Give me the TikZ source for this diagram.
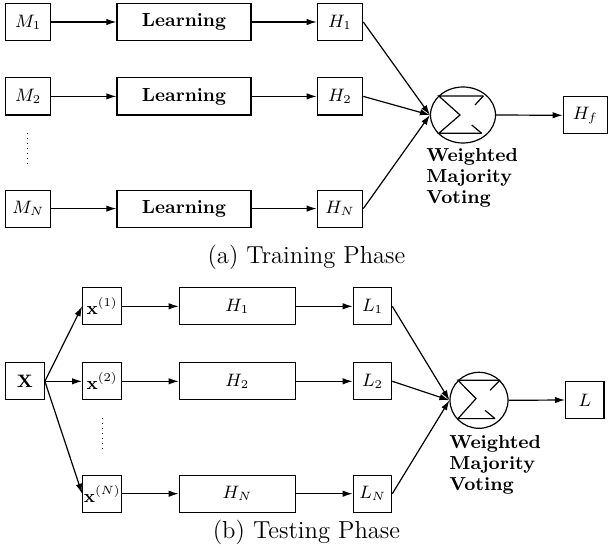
\documentclass[tikz,border=0pt]{standalone}
\usetikzlibrary{shapes.geometric,arrows.meta}
\begin{document}
\begin{tikzpicture}[x=0.5pt,y=-0.5pt,
  box/.style={draw,line width=0.6pt,minimum height=18.5pt,inner sep=0pt,font=\fontsize{9}{11}\selectfont},
  lbl/.style={font=\fontsize{9.5}{10.5}\selectfont\bfseries},
  vote/.style={font=\fontsize{9.4}{10.5}\selectfont\bfseries,align=left,inner sep=0pt,anchor=north west},
  arr/.style={-{Latex[length=5pt,width=3.2pt]},line width=0.6pt},
  thinline/.style={line width=0.6pt},
  dotline/.style={line width=0.5pt,dotted},
  sumnode/.style={draw,ellipse,line width=0.6pt,inner sep=0pt},
  captxt/.style={font=\fontsize{12.3}{14}\selectfont,anchor=base}]
\useasboundingbox (0,0) rectangle (609,556);

% ---------- Training phase ----------
\node[box,minimum width=22.5pt] (m1) at (28.2,22) {$M_1$};
\node[box,minimum width=22.5pt] (m2) at (28.2,96.4) {$M_2$};
\node[box,minimum width=22.5pt] (mn) at (28.2,208.6) {$M_N$};

\node[box,lbl,minimum width=67pt] (le1) at (184,22) {Learning};
\node[box,lbl,minimum width=67pt] (le2) at (184,96.4) {Learning};
\node[box,lbl,minimum width=67pt] (len) at (184,208.6) {Learning};

\node[box,minimum width=22.7pt] (h1) at (340,22) {$H_1$};
\node[box,minimum width=22.7pt] (h2) at (340,96.4) {$H_2$};
\node[box,minimum width=22.7pt] (hn) at (340,208.6) {$H_N$};

\node[sumnode,minimum width=32.5pt,minimum height=28pt] (s1) at (463,115) {};
\begin{scope}[shift={(s1.center)}]
  \draw[thinline] (20.3,-19) -- (-24.2,-19) -- (-3,0) -- (-24.2,18.3) -- (18.7,18.3);
  \draw[thinline] (20.3,-19) -- (12,-10);
  \draw[thinline] (8.7,10) -- (18.7,18.3);
\end{scope}
\node[vote] (v1) at (426,148.5) {Weighted\\Majority\\Voting};

\node[box,minimum width=22pt] (hf) at (585.3,115.3) {$H_f$};

\coordinate (d1a) at (27.7,133);
\coordinate (d1b) at (27.7,167);
\draw[dotline] (d1a) -- (d1b);

\draw[arr] (m1) -- (le1);
\draw[arr] (m2) -- (le2);
\draw[arr] (mn) -- (len);
\draw[arr] (le1) -- (h1);
\draw[arr] (le2) -- (h2);
\draw[arr] (len) -- (hn);
\draw[arr] (h1.east) -- (s1.west);
\draw[arr] (h2.east) -- (s1.west);
\draw[arr] (hn.east) -- (s1.west);
\draw[arr] (s1.east) -- (hf.west);

\node[captxt] (capa) at (306.5,263.5) {(a) Training Phase};

% ---------- Testing phase ----------
\node[box,minimum width=19.3pt] (X) at (25,381.3) {$\mathbf{X}$};

\node[box,minimum width=19.5pt] (x1) at (102.2,306.3) {$\mathbf{x}^{(1)}$};
\node[box,minimum width=19.5pt] (x2) at (102.2,381.3) {$\mathbf{x}^{(2)}$};
\node[box,minimum width=19.5pt] (xn) at (102.2,493.7) {$\mathbf{x}^{(N)}$};

\node[box,minimum width=58pt] (hb1) at (237.3,306.3) {$H_1$};
\node[box,minimum width=58pt] (hb2) at (237.3,381.3) {$H_2$};
\node[box,minimum width=58pt] (hbn) at (237.3,493.7) {$H_N$};

\node[box,minimum width=19.2pt] (l1) at (372.5,306.3) {$L_1$};
\node[box,minimum width=19.2pt] (l2) at (372.5,381.3) {$L_2$};
\node[box,minimum width=19.2pt] (lN) at (372.5,493.7) {$L_N$};

\node[sumnode,minimum width=29pt,minimum height=28pt] (s2) at (479,400.3) {};
\begin{scope}[shift={(s2.center)}]
  \draw[thinline] (21,-20) -- (-21,-20) -- (-3,-1.7) -- (-21,18.3) -- (16,18.3);
  \draw[thinline] (21,-20) -- (11,-10);
  \draw[thinline] (6,10) -- (16,18.3);
\end{scope}
\node[vote] (v2) at (449,435.5) {Weighted\\Majority\\Voting};

\node[box,minimum width=19.2pt] (lf) at (584.8,400) {$L$};

\coordinate (d2a) at (102.3,418);
\coordinate (d2b) at (102.3,453);
\draw[dotline] (d2a) -- (d2b);

\draw[arr] (X.east) -- (x1.west);
\draw[arr] (X.east) -- (x2.west);
\draw[arr] (X.east) -- (xn.west);
\draw[arr] (x1) -- (hb1);
\draw[arr] (x2) -- (hb2);
\draw[arr] (xn) -- (hbn);
\draw[arr] (hb1) -- (l1);
\draw[arr] (hb2) -- (l2);
\draw[arr] (hbn) -- (lN);
\draw[arr] (l1.east) -- (s2.west);
\draw[arr] (l2.east) -- (s2.west);
\draw[arr] (lN.east) -- (s2.west);
\draw[arr] (s2.east) -- (lf.west);

\node[captxt] (capb) at (306.5,538.5) {(b) Testing Phase};
\end{tikzpicture}
\end{document}
